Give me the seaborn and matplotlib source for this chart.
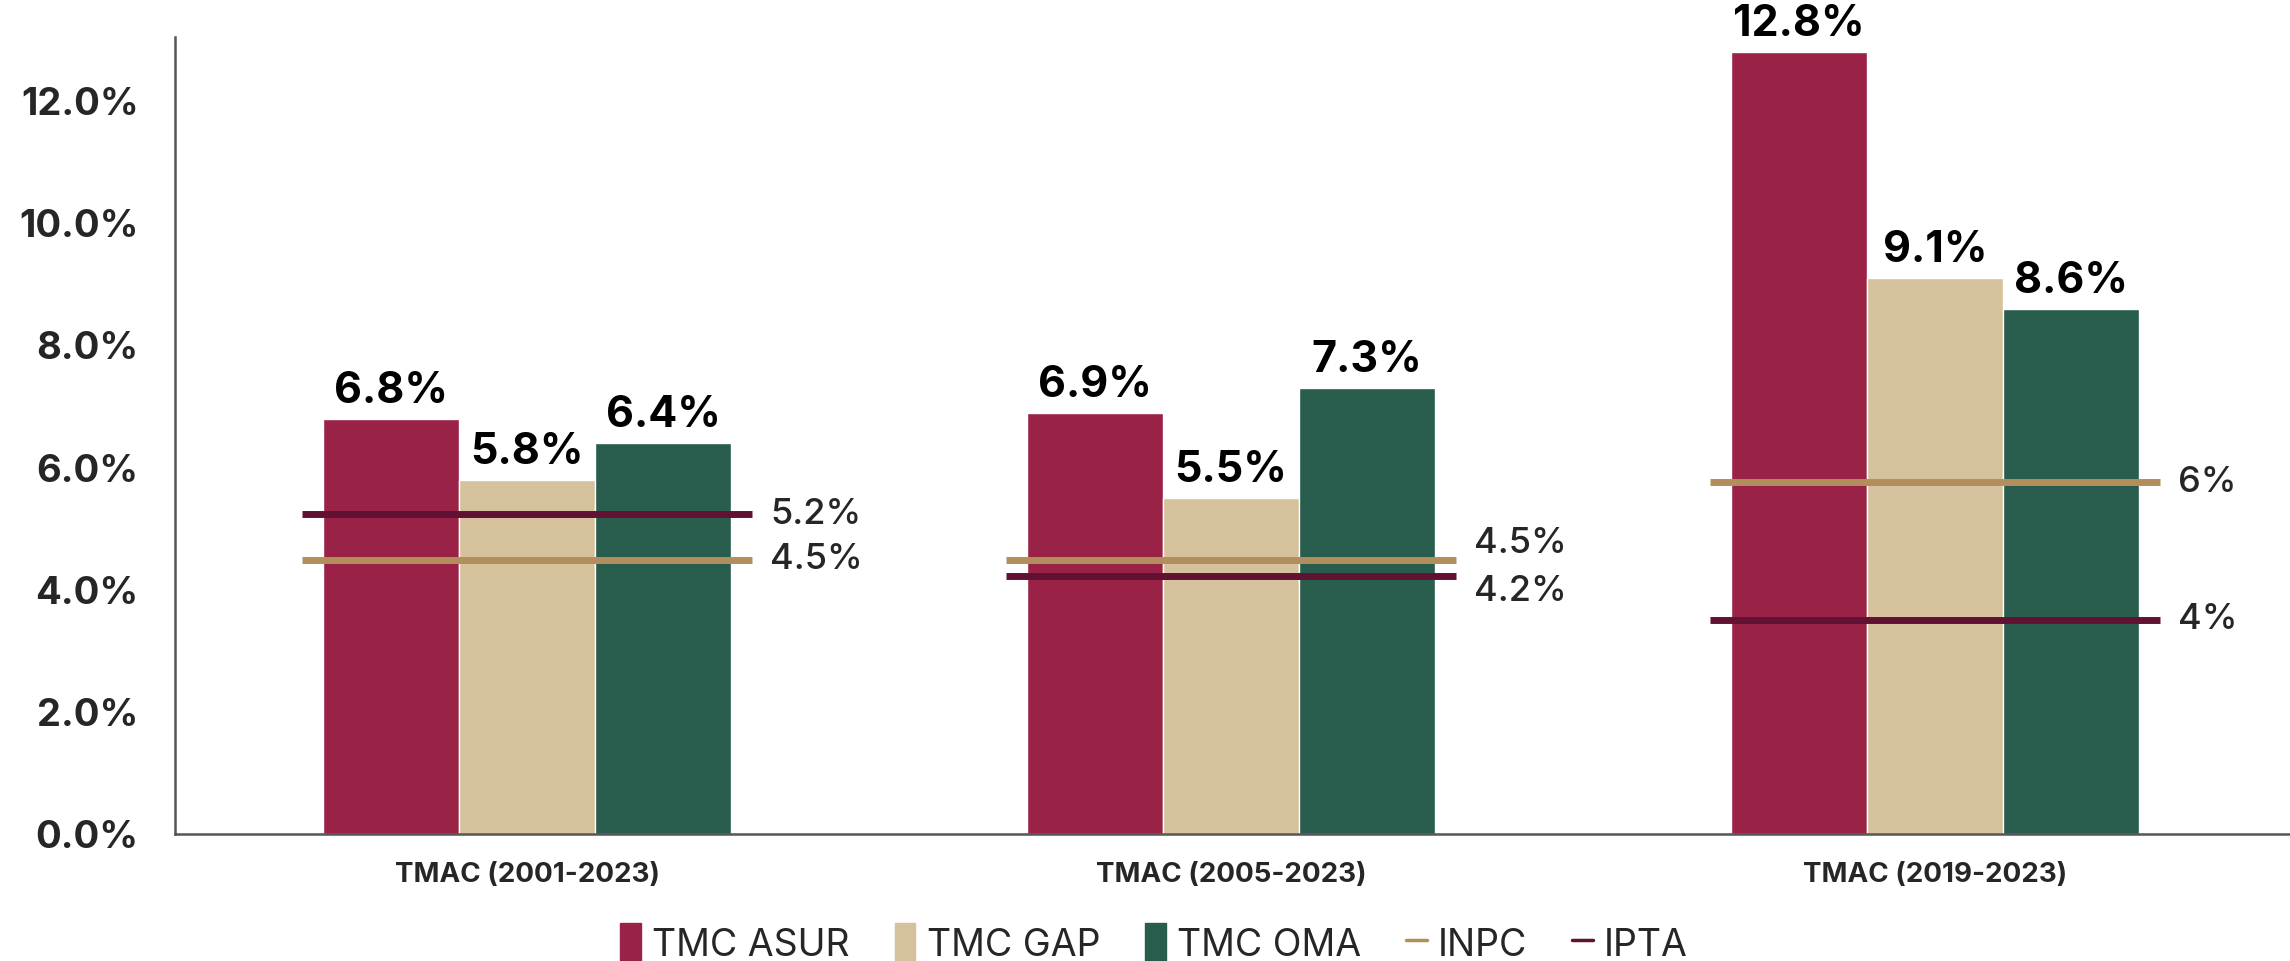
import pandas as pd
import matplotlib.pyplot as plt
import numpy as np
import seaborn as sns
from matplotlib.patches import Patch
from matplotlib.lines import Line2D

# Datos
periodos = ['TMAC (2001-2023)', 'TMAC (2005-2023)', 'TMAC (2019-2023)']
series = ['TMC ASUR', 'TMC GAP', 'TMC OMA']
asur = [6.8, 6.9, 12.8]
gap = [5.8, 5.5, 9.1]
oma = [6.4, 7.3, 8.6]
inpc = [4.49, 4.49, 5.76]
ipta = [5.24, 4.23, 3.51]
inpc_etiquetas = ['4.5%', '4.5%', '6%']
ipta_etiquetas = ['5.2%', '4.2%', '4%']

colores = {'TMC ASUR': '#9b2247', 'TMC GAP': '#d5c19b', 'TMC OMA': '#285c4d'}
color_inpc = '#b38e5d'
color_ipta = '#611232'

df = pd.DataFrame({
    'periodo': periodos * 3,
    'serie': [s for s in series for _ in periodos],
    'valor': asur + gap + oma,
})

sns.set_style('white')
plt.rcParams['font.family'] = ['Inter', 'DejaVu Sans']

fig = plt.figure(figsize=(22.9, 9.61), dpi=100)
ax = fig.add_axes([0.0764, 0.132, 0.9236, 0.8295])

sns.barplot(data=df, x='periodo', y='valor', hue='serie', palette=colores,
            width=0.58, gap=0, saturation=1, ax=ax, legend=False)

for cont in ax.containers:
    ax.bar_label(cont, labels=[f'{v:.1f}%' for v in cont.datavalues],
                 padding=5, fontsize=31, fontweight='bold', color='black')

# Lineas de referencia INPC / IPTA
for i in range(len(periodos)):
    ax.hlines(inpc[i], i - 0.32, i + 0.32, color=color_inpc, lw=5, zorder=3)
    ax.hlines(ipta[i], i - 0.32, i + 0.32, color=color_ipta, lw=5, zorder=3)
    y_inpc, y_ipta = inpc[i], ipta[i]
    if abs(y_inpc - y_ipta) < 0.6:
        mid = (y_inpc + y_ipta) / 2
        sgn = 1 if y_inpc >= y_ipta else -1
        y_inpc, y_ipta = mid + sgn * 0.39, mid - sgn * 0.39
    ax.text(i + 0.345, y_inpc, inpc_etiquetas[i], va='center', ha='left',
            fontsize=26, fontweight='medium')
    ax.text(i + 0.345, y_ipta, ipta_etiquetas[i], va='center', ha='left',
            fontsize=26, fontweight='medium')

ax.set_xlim(-0.5, 2.504)
ax.set_ylim(0, 13.05)
ax.set_yticks(np.arange(0, 13, 2))
ax.set_yticklabels([f'{v:.1f}%' for v in np.arange(0, 13, 2)])
ax.set_xlabel('')
ax.set_ylabel('')
ax.tick_params(axis='y', length=0, pad=26, labelsize=27.5)
ax.tick_params(axis='x', length=0, pad=20, labelsize=20)
for lab in ax.get_yticklabels() + ax.get_xticklabels():
    lab.set_fontweight('bold')

sns.despine(ax=ax)
for s in ['left', 'bottom']:
    ax.spines[s].set_color('#555555')
    ax.spines[s].set_linewidth(1.8)
ax.set_facecolor('none')
ax.grid(False)

handles = [Patch(color=colores[s]) for s in series] + [
    Line2D([0], [0], color=color_inpc, lw=2.5),
    Line2D([0], [0], color=color_ipta, lw=2.5)]
etiquetas = series + ['INPC', 'IPTA']
fig.legend(handles, etiquetas, loc='center', bbox_to_anchor=(0.504, 0.018), ncol=5,
           frameon=False, handlelength=0.55, handleheight=1.3, handletextpad=0.3,
           columnspacing=1.2, prop={'family': ['Liberation Sans Narrow', 'Inter'], 'size': 27})

plt.savefig('out.png', dpi=100)
